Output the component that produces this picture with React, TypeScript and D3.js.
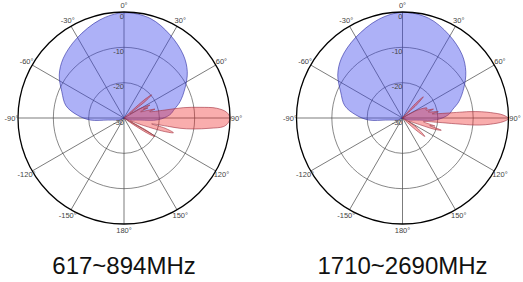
import React from "react";
import * as d3 from "d3";

// ---- data ----
const ringDb = [0, -10, -20, -30];
const spokeAngles = [0, 30, 60, 90, 120, 150, 180, 210, 240, 270, 300, 330];
const angleLabels = ["0°", "30°", "60°", "90°", "120°", "150°", "180°", "-150°", "-120°", "-90°", "-60°", "-30°"];
const ringLabels = ["0", "-10", "-20", "-30"];

// 617~894MHz
const blueLeftAngles = [-125, -110, -100, -97, -93.4, -86.3, -78, -67.1, -56.4, -45.5, -30.7, -13.8, 0, 14.6, 29, 43.3, 53.8, 64, 73.8, 80, 86, 93, 97, 100, 110, 125];
const blueLeftDb = [-30, -28.4, -26.7, -25.2, -20.4, -16.7, -13.2, -10.9, -8.0, -5.9, -3.8, -1.4, -0.2, -0.84, -3.1, -5.5, -7.8, -10.8, -13.5, -15.5, -17, -20.4, -25.2, -26.7, -28.4, -30];
const redLeftAngles = [40, 45, 48, 50, 52, 55, 59, 63.5, 65.5, 67, 69.5, 72, 74, 76, 79, 80.1, 82, 84, 86.8, 90, 93, 95, 96.8, 99, 100.4, 100.7, 102, 104, 106.6, 108.5, 111, 115, 119, 121, 123, 126, 130];
const redLeftDb = [-30, -30, -22.5, -19.8, -22.5, -28, -25, -21.8, -24, -22.6, -25, -23, -20.9, -22.5, -18.2, -13.0, -8.3, -3.6, -0.9, 0, -0.6, -1.8, -5.5, -10.1, -13.9, -16.8, -22, -18, -15.4, -18, -24, -28, -22.5, -19.8, -22, -28, -30];

// 1710~2690MHz
const blueRightAngles = [-125, -110, -100, -97, -93.4, -86.3, -78, -67.1, -56.4, -45.5, -30.7, -13.8, 0, 14.6, 29, 43.3, 53.8, 64, 73.8, 80, 86, 93, 97, 100, 110, 125];
const blueRightDb = [-30, -28.4, -26.7, -25.2, -20.4, -16.8, -13.3, -11.0, -8.0, -5.8, -3.7, -1.3, -0.1, -0.8, -3.0, -5.4, -7.8, -10.7, -13.4, -15.5, -17, -20.4, -25.2, -26.7, -28.4, -30];
const redRightAngles = [36, 40, 42, 44.5, 47, 50, 58, 64, 68, 71, 74, 76.5, 80, 82, 83, 84.3, 84.6, 85.5, 86.5, 88.3, 90.3, 92.1, 94, 95.2, 95.8, 96, 96.5, 97, 100, 104, 105.5, 107.5, 109.5, 112, 118, 124, 129.5, 132, 136];
const redRightDb = [-30, -30, -24.5, -21.6, -24.5, -30, -28, -24, -22.5, -23, -20.9, -22.5, -19.7, -21.5, -20, -13, -10.8, -7.5, -5, -1.5, 0, -1.5, -5, -8, -10.8, -13, -17, -20, -24, -20.5, -22, -18.5, -20.5, -26, -28, -25, -21.8, -25, -30];

const titles = ["617~894MHz", "1710~2690MHz"];

const W = 523;
const H = 282;
const R = 106;
const CY = 118;
const centersX = [124, 402.5];

type PolarProps = {
  cx: number;
  title: string;
  blueA: number[];
  blueD: number[];
  redA: number[];
  redD: number[];
};

function PolarChart({ cx, title, blueA, blueD, redA, redD }: PolarProps) {
  const r = d3.scaleLinear().domain([-30, 0]).range([0, R]).clamp(true);
  const rad = (deg: number) => (deg * Math.PI) / 180;
  const line = d3
    .lineRadial<[number, number]>()
    .angle((d) => rad(d[0]))
    .radius((d) => r(d[1]))
    .curve(d3.curveCatmullRomClosed.alpha(0.5));
  const blue = blueA.map((a, i) => [a, blueD[i]] as [number, number]);
  const red = redA.map((a, i) => [a, redD[i]] as [number, number]);
  const font = "'Liberation Sans', Arial, sans-serif";
  return (
    <g>
      <g transform={`translate(${cx},${CY})`}>
        {ringDb.slice(1, 3).map((db) => (
          <circle key={db} r={r(db)} fill="none" stroke="#555" strokeWidth={0.7} />
        ))}
        {spokeAngles.map((a) => (
          <line
            key={a}
            x1={0}
            y1={0}
            x2={R * Math.sin(rad(a))}
            y2={-R * Math.cos(rad(a))}
            stroke="#444"
            strokeWidth={0.7}
          />
        ))}
        <path d={line(blue) || ""} fill="rgb(60,70,235)" fillOpacity={0.42} stroke="#2a2aa0" strokeWidth={0.6} />
        <path d={line(red) || ""} fill="rgb(240,40,40)" fillOpacity={0.38} stroke="#a03040" strokeWidth={0.6} />
        <circle r={R} fill="none" stroke="#000" strokeWidth={1.3} />
        {spokeAngles.map((a, i) => (
          <text
            key={"l" + a}
            x={(R + 6.5) * Math.sin(rad(a))}
            y={-(R + 6.5) * Math.cos(rad(a))}
            textAnchor="middle"
            dominantBaseline="central"
            fontFamily={font}
            fontSize={7.5}
            fill="#444"
          >
            {angleLabels[i]}
          </text>
        ))}
        {ringDb.map((db, i) => (
          <text
            key={"r" + db}
            x={0}
            y={-r(db) + 4}
            textAnchor="end"
            dominantBaseline="central"
            fontFamily={font}
            fontSize={7.5}
            fill="#444"
          >
            {ringLabels[i]}
          </text>
        ))}
      </g>
      <text x={cx} y={274} textAnchor="middle" fontFamily={font} fontSize={24} fill="#111">
        {title}
      </text>
    </g>
  );
}

export default function App() {
  return (
    <svg
      width={W}
      height={H}
      viewBox={`0 0 ${W} ${H}`}
      style={{ position: "absolute", left: 0, top: 0, background: "#fff" }}
    >
      <rect width={W} height={H} fill="#fff" />
      <PolarChart cx={centersX[0]} title={titles[0]} blueA={blueLeftAngles} blueD={blueLeftDb} redA={redLeftAngles} redD={redLeftDb} />
      <PolarChart cx={centersX[1]} title={titles[1]} blueA={blueRightAngles} blueD={blueRightDb} redA={redRightAngles} redD={redRightDb} />
    </svg>
  );
}
